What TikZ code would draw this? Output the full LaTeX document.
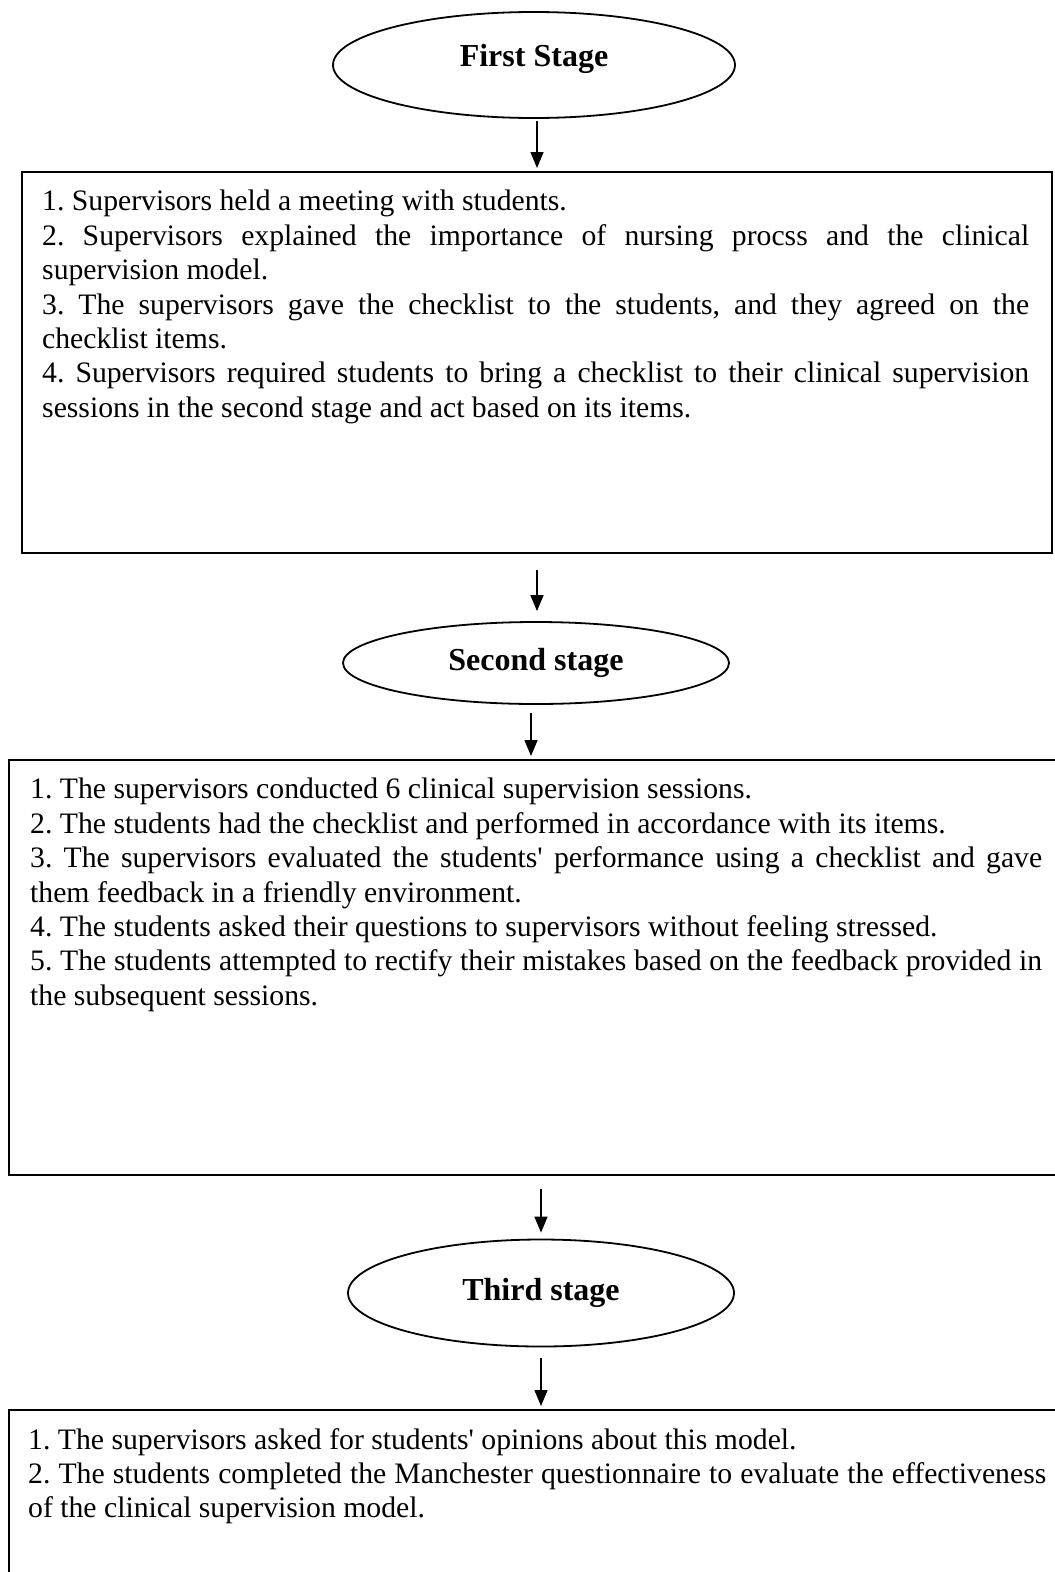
\documentclass[tikz,border=0pt]{standalone}
\usepackage{fontspec}
\setmainfont{Liberation Serif}[Ligatures=TeXOff]
\usetikzlibrary{arrows.meta,shapes.geometric}
\setlength{\parindent}{0pt}
\frenchspacing
\tikzset{
  stage/.style={draw, line width=1.8pt, ellipse, inner sep=0pt, font=\fontsize{32}{38}\selectfont\bfseries},
  panel/.style={draw, line width=2.2pt, rectangle, inner sep=0pt, anchor=north west},
  para/.style={inner sep=0pt, anchor=north west, align=justify, font=\fontsize{29.7}{34.4}\selectfont\frenchspacing},
  arr/.style={line width=1.5pt, -{Triangle[length=16pt,width=13pt]}}
}
\begin{document}
\begin{tikzpicture}[x=1pt,y=-1pt]
\useasboundingbox (0,0) rectangle (1055,1572);
\fill[white] (0,0) rectangle (1055,1572);

\node[stage, minimum width=402pt, minimum height=106pt] (e1) at (534,65) {\raisebox{20pt}{First Stage}};
\node[panel, minimum width=1030pt, minimum height=381pt] (b1) at (21,171) {};
\node[para, text width=987pt] (t1) at ([xshift=21pt,yshift=-19pt]b1.north west) {%
1. Supervisors held a meeting with students.\par
2. Supervisors explained the importance of nursing procss and the clinical \linebreak supervision model.\par
3. The supervisors gave the checklist to the students, and they agreed on the \linebreak checklist items.\par
4. Supervisors required students to bring a checklist to their clinical supervision \linebreak sessions in the second stage and act based on its items.};

\node[stage, minimum width=386pt, minimum height=82pt] (e2) at (536,663) {Second stage};
\node[panel, minimum width=1070pt, minimum height=415pt] (b2) at (8,759) {};
\node[para, text width=1012pt] (t2) at ([xshift=22pt,yshift=-19pt]b2.north west) {%
1. The supervisors conducted 6 clinical supervision sessions.\par
2. The students had the checklist and performed in accordance with its items.\par
3. The supervisors evaluated the students' performance using a checklist and gave \linebreak them feedback in a friendly environment.\par
4. The students asked their questions to supervisors without feeling stressed.\par
5. The students attempted to rectify their mistakes based on the feedback provided in \linebreak the subsequent sessions.};

\node[stage, minimum width=386pt, minimum height=107pt] (e3) at (541,1293) {\raisebox{8pt}{Third stage}};
\node[panel, minimum width=1070pt, minimum height=220pt] (b3) at (8,1409) {};
\node[para, text width=1018pt] (t3) at ([xshift=20pt,yshift=-19pt]b3.north west) {%
1. The supervisors asked for students' opinions about this model.\par
2. The students completed the Manchester questionnaire to evaluate the effectiveness \linebreak of the clinical supervision model.};

\draw[arr, shorten <=2pt, shorten >=3pt] ([xshift=3pt]e1.south) -- ([xshift=3pt]e1.south |- b1.north);
\draw[arr, shorten <=16pt, shorten >=10pt] ([xshift=1pt]b1.south -| e2.north) -- ([xshift=1pt]e2.north);
\draw[arr, shorten <=8pt, shorten >=3pt] ([xshift=-5pt]e2.south) -- ([xshift=-5pt]e2.south |- b2.north);
\draw[arr, shorten <=13pt, shorten >=6pt] (b2.south -| e3.north) -- (e3.north);
\draw[arr, shorten <=11pt, shorten >=3pt] (e3.south) -- (e3.south |- b3.north);
\end{tikzpicture}
\end{document}
